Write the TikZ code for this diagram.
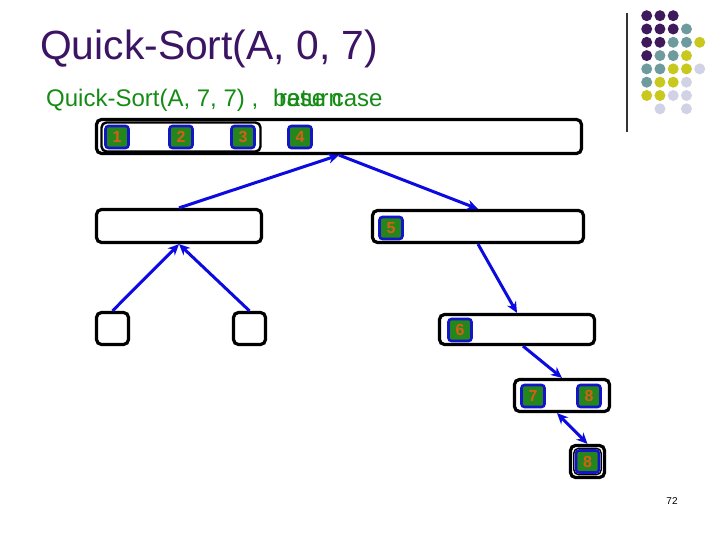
\documentclass[tikz,border=0pt]{standalone}
\usepackage{fontspec}
\setmainfont{Liberation Sans}
\usetikzlibrary{arrows.meta}

\definecolor{titlepurple}{RGB}{60,20,100}
\definecolor{notegreen}{RGB}{20,140,20}
\definecolor{elemgreen}{RGB}{35,135,30}
\definecolor{elemblue}{RGB}{20,20,200}
\definecolor{elemorange}{RGB}{215,95,20}
\definecolor{callblue}{RGB}{10,10,225}
\definecolor{dotP}{RGB}{62,26,92}
\definecolor{dotT}{RGB}{110,155,158}
\definecolor{dotY}{RGB}{200,200,30}
\definecolor{dotL}{RGB}{210,210,230}

\begin{document}
\begin{tikzpicture}[x=1pt,y=-1pt,
  box/.style={draw=black,line width=3.2pt,rounded corners=5pt,fill=white,inner sep=0pt},
  elem/.style={draw=elemblue,line width=2.6pt,fill=elemgreen,rounded corners=3pt,
    minimum width=23pt,minimum height=22pt,inner sep=0pt,text=elemorange,
    font=\bfseries\fontsize{16}{16}\selectfont},
  call/.style={draw=callblue,line width=3pt,-{Stealth[length=11pt,width=10pt]}}]

\useasboundingbox (0,0) rectangle (720,540);

% Title and note
\node[anchor=base west,inner sep=0pt,text=titlepurple,font=\fontsize{40.8}{48}\selectfont]
  (title) at (40,60) {Quick-Sort(A, 0, 7)};
\node[anchor=base west,inner sep=0pt,text=notegreen,font=\fontsize{24}{28}\selectfont]
  (call) at (46,107) {Quick-Sort(A, 7, 7) ,};
\node[anchor=base west,inner sep=0pt,text=notegreen,font=\fontsize{24}{28}\selectfont]
  (base) at (273,107) {base case};
\node[anchor=base west,inner sep=0pt,text=notegreen,font=\fontsize{24}{28}\selectfont]
  (ret) at (279,107) {return};

% Recursion boxes
\node[box,minimum width=485pt,minimum height=34pt] (root) at (339,136.5) {};
\node[box,line width=2.4pt,fill=none,minimum width=159pt,minimum height=29pt] (rootL) at (181,137) {};
\node[box,minimum width=165pt,minimum height=33pt] (lvlA) at (179,226) {};
\node[box,minimum width=211pt,minimum height=32pt] (lvlB) at (478,226.5) {};
\node[box,minimum width=32pt,minimum height=32pt] (leafA) at (112.5,328.5) {};
\node[box,minimum width=32pt,minimum height=32pt] (leafB) at (249.5,328.5) {};
\node[box,minimum width=155pt,minimum height=30pt] (lvlC) at (517,329.5) {};
\node[box,minimum width=95pt,minimum height=32pt] (lvlD) at (562,395.5) {};
\node[box,minimum width=34pt,minimum height=32pt] (lvlE) at (587.5,461.5) {};
\node[box,line width=1.4pt,minimum width=27.5pt,minimum height=26.5pt] (lvlEin) at (587.5,461.5) {};

% Elements
\foreach \i/\x in {1/117,2/181,3/243,4/300}
  \node[elem] (e\i) at (\x,137) {\i};
\node[elem] (e5) at (391,228) {5};
\node[elem] (e6) at (460,330) {6};
\node[elem] (e7) at (533,396) {7};
\node[elem] (e8) at (589,396) {8};
\node[elem] (e8b) at (587.5,461.5) {8};

% Calls and returns
\draw[call] (lvlA.north) -- (root.south);
\draw[call] (root.south) -- (lvlB.north);
\draw[call] (leafA.north) -- (lvlA.south);
\draw[call] (leafB.north) -- (lvlA.south);
\draw[call] (lvlB.south) -- (lvlC.north);
\draw[call] ([xshift=6pt]lvlC.south) -- (lvlD.north);
\draw[call,{Stealth[length=11pt,width=10pt]}-{Stealth[length=11pt,width=10pt]}]
  ([xshift=-5pt]lvlD.south) -- (lvlE.north);

% Corner dots
\def\DX{13.25}
\def\DY{13.3}
\draw[line width=1.2pt,black!80] (627,13) -- (627,132);
\foreach \c/\r/\col in {0/0/dotP,1/0/dotP,2/0/dotP,
  0/1/dotP,1/1/dotP,2/1/dotP,3/1/dotT,
  0/2/dotP,1/2/dotP,2/2/dotT,3/2/dotT,4/2/dotY,
  0/3/dotP,1/3/dotT,2/3/dotT,3/3/dotY,
  0/4/dotT,1/4/dotT,2/4/dotY,3/4/dotY,4/4/dotL,
  0/5/dotT,1/5/dotY,2/5/dotY,3/5/dotL,
  0/6/dotY,1/6/dotY,2/6/dotL,3/6/dotL,
  1/7/dotL,3/7/dotL}
  \fill[\col] ({646.7+\c*\DX},{15.7+\r*\DY}) circle (5.5pt);

% Page number
\node[font=\fontsize{10}{12}\selectfont,inner sep=0pt] (page) at (672,501) {72};
\end{tikzpicture}
\end{document}
